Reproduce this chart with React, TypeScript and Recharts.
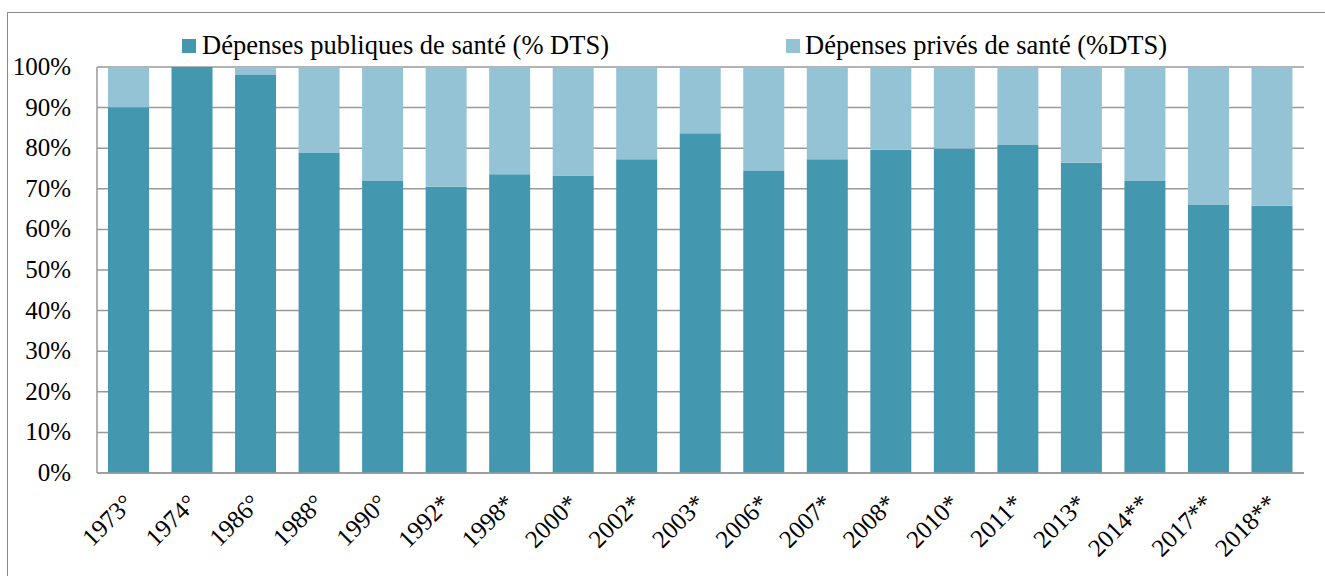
import React from "react";
import { BarChart, Bar, XAxis, YAxis, CartesianGrid } from "recharts";

const categories = ["1973°","1974°","1986°","1988°","1990°","1992*","1998*","2000*","2002*","2003*","2006*","2007*","2008*","2010*","2011*","2013*","2014**","2017**","2018**"];
const publicShare = [90.1, 100, 98, 78.8, 71.9, 70.5, 73.6, 73.3, 77.3, 83.7, 74.4, 77.3, 79.6, 79.9, 80.8, 76.4, 71.9, 66, 65.8];
const privateShare = [9.9, 0, 2, 21.2, 28.1, 29.5, 26.4, 26.7, 22.7, 16.3, 25.6, 22.7, 20.4, 20.1, 19.2, 23.6, 28.1, 34, 34.2];
const yTicks = [0, 10, 20, 30, 40, 50, 60, 70, 80, 90, 100];
const seriesNames = ["Dépenses publiques de santé (% DTS)", "Dépenses privés de santé (%DTS)"];

const data = categories.map((c, i) => ({ cat: c, pub: publicShare[i], priv: privateShare[i] }));

const FONT = "'Liberation Serif'";
const C_PUB = "#4398B0";
const C_PRIV = "#93C3D5";

const XTick = (props: any) => {
  const { x, y, payload } = props;
  const ax = x + 6;
  const ay = y + 32;
  return (
    <text x={ax} y={ay} transform={`rotate(-45, ${ax}, ${ay})`} textAnchor="end" fontFamily="Liberation Serif" fontSize={25} fill="#000">
      {payload.value}
    </text>
  );
};

const YTick = (props: any) => {
  const { y, payload } = props;
  return (
    <text x={71} y={y} dy={8} textAnchor="end" fontFamily="Liberation Serif" fontSize={25} fill="#000">
      {`${payload.value}%`}
    </text>
  );
};

export default function App() {
  return (
    <div style={{ position: "absolute", left: 0, top: 0, width: 1325, height: 576, background: "#fff", overflow: "hidden" }}>
      <div style={{ position: "absolute", left: 7, top: 12, width: 1400, height: 700, borderLeft: "1.5px solid #8a8a8a", borderTop: "1.5px solid #8a8a8a" }} />
      <div style={{ position: "absolute", left: 182, top: 30, display: "flex", alignItems: "center", whiteSpace: "nowrap", fontSize: 26.5, fontFamily: FONT }}>
        <span style={{ width: 14, height: 14, background: C_PUB, display: "inline-block", marginRight: 6 }} />
        <span>{seriesNames[0]}</span>
      </div>
      <div style={{ position: "absolute", left: 786, top: 30, display: "flex", alignItems: "center", whiteSpace: "nowrap", fontSize: 26.5, fontFamily: FONT }}>
        <span style={{ width: 14, height: 14, background: C_PRIV, display: "inline-block", marginRight: 5 }} />
        <span>{seriesNames[1]}</span>
      </div>
      <div style={{ position: "absolute", left: 0, top: 0 }}>
        <BarChart width={1325} height={576} data={data} margin={{ top: 67, right: 21, bottom: 0, left: 0 }} barSize={41}>
          <CartesianGrid vertical={false} stroke="#999" strokeWidth={1.5} />
          <XAxis dataKey="cat" interval={0} height={103} tickSize={0} tickMargin={0} tick={<XTick />} axisLine={{ stroke: "#999", strokeWidth: 1.5 }} tickLine={false} />
          <YAxis width={97} domain={[0, 100]} ticks={yTicks} tickSize={0} tickMargin={0} tickLine={false}
            axisLine={{ stroke: "#999", strokeWidth: 1.5 }} tick={<YTick />} allowDataOverflow />
          <Bar dataKey="pub" stackId="a" fill={C_PUB} isAnimationActive={false} name={seriesNames[0]} />
          <Bar dataKey="priv" stackId="a" fill={C_PRIV} isAnimationActive={false} name={seriesNames[1]} />
        </BarChart>
      </div>
    </div>
  );
}
